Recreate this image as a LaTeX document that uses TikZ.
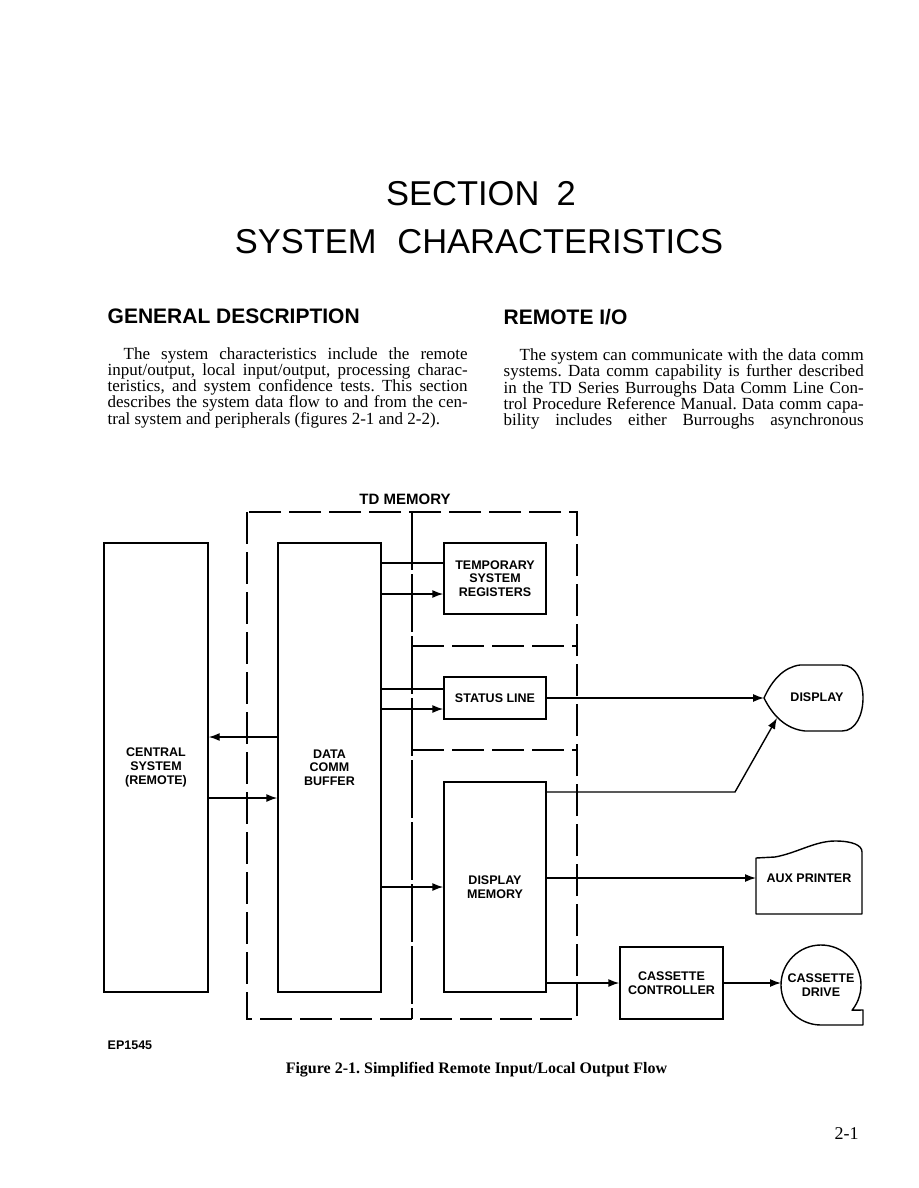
\documentclass[tikz,border=0pt]{standalone}
\usepackage{fontspec}
\setmainfont{Liberation Serif}
\setsansfont{Liberation Sans}
\usetikzlibrary{arrows.meta,calc,positioning}
\frenchspacing
\newcommand\lblfont{\sffamily\bfseries\fontsize{12.5}{13.6}\selectfont}
\newcommand\jline[2]{\makebox[#1pt][s]{#2}}
\tikzset{
  blk/.style={draw,inner sep=0pt,align=center,font=\lblfont},
  lbl/.style={inner sep=0pt,align=center,font=\lblfont},
  shp/.style={line join=round},
  tdbox/.style={line width=1.2pt,dash pattern=on 32pt off 8pt},
  tdsplit/.style={line width=1.2pt,dash pattern=on 58pt off 4pt},
  body/.style={anchor=base west,inner sep=0pt,font=\fontsize{17}{16.3}\selectfont},
  head/.style={anchor=base west,inner sep=0pt,font=\sffamily\bfseries\fontsize{21}{24}\selectfont},
  title/.style={inner sep=0pt,font=\sffamily\fontsize{34.5}{40}\selectfont}
}
\begin{document}
\begin{tikzpicture}[x=1pt,y=-1pt,line width=1.4pt,>={Latex[length=11pt,width=8pt]}]
  \useasboundingbox (0,0) rectangle (918,1188);

  % page heading
  \node[title,anchor=base] (sec) at (481,205) {SECTION\hspace{0.5em}2};
  \node[title,anchor=base] (sys) at (479,253) {SYSTEM\hspace{0.6em}CHARACTERISTICS};

  \node[head] (hgen) at (107,323) {GENERAL DESCRIPTION};
  \node[head] (hrem) at (503,324) {REMOTE I/O};

  % left column
  \node[body] (l1) at (123,359)   {\jline{344}{The system characteristics include the remote}};
  \node[body] (l2) at (107,375.3) {\jline{360}{input/output, local input/output, processing charac-}};
  \node[body] (l3) at (107,391.6) {\jline{360}{teristics, and system confidence tests. This section}};
  \node[body] (l4) at (107,407.9) {\jline{360}{describes the system data flow to and from the cen-}};
  \node[body] (l5) at (107,424.2) {tral system and peripherals (figures 2-1 and 2-2).};

  % right column
  \node[body] (r1) at (519,360.5) {\jline{344}{The system can communicate with the data comm}};
  \node[body] (r2) at (503,376.8) {\jline{360}{systems. Data comm capability is further described}};
  \node[body] (r3) at (503,393.1) {\jline{360}{in the TD Series Burroughs Data Comm Line Con-}};
  \node[body] (r4) at (503,409.4) {\jline{360}{trol Procedure Reference Manual. Data comm capa-}};
  \node[body] (r5) at (503,425.7) {\jline{360}{bility includes either Burroughs asynchronous}};

  % TD memory outline
  \node[font=\sffamily\bfseries\fontsize{15}{18}\selectfont,inner sep=0pt] (tdmem) at (405,499) {TD MEMORY};
  \draw[tdbox] (247,512) rectangle (577,1019);
  \draw[tdsplit] (412,512) -- (412,1019);
  \draw[tdbox] (412,646) -- (577,646);
  \draw[tdbox] (412,750) -- (577,750);

  % blocks
  \node[blk,minimum width=104,minimum height=449] (central) at (156,767.5) {CENTRAL\\SYSTEM\\(REMOTE)};
  \node[blk,minimum width=103,minimum height=449] (buf) at (329.5,767.5) {DATA\\COMM\\BUFFER};
  \node[blk,minimum width=102,minimum height=71] (tsr) at (495,578.5) {TEMPORARY\\SYSTEM\\REGISTERS};
  \node[blk,minimum width=102,minimum height=42] (status) at (495,698) {STATUS LINE};
  \node[blk,minimum width=102,minimum height=210] (dmem) at (495,887) {DISPLAY\\MEMORY};
  \node[blk,minimum width=103,minimum height=72] (cctl) at (671.5,983) {CASSETTE\\CONTROLLER};

  % display
  \coordinate (dispL) at (764,698);
  \coordinate (dispLL) at (777,718);
  \draw[shp] (dispL) .. controls (772,680) and (784,667) .. (800,665) -- (842,665)
    .. controls (870,665) and (870,731) .. (842,731) -- (805,731)
    .. controls (786,729) and (773,716) .. (dispL) -- cycle;
  \node[lbl] (disp) at (817,697) {DISPLAY};

  % aux printer
  \coordinate (auxL) at (756,878);
  \draw[shp] (auxL) -- (756,858) -- (775,857) .. controls (797,853) and (815,841) .. (835,841)
    .. controls (852,841) and (862,845) .. (862,852) -- (862,914) -- (756,914) -- cycle;
  \node[lbl] (aux) at (809,878) {AUX PRINTER};

  % cassette drive
  \node[lbl,circle,outer sep=0pt,minimum size=80] (cdrive) at (821,985) {CASSETTE\\DRIVE};
  \draw[shp] (cdrive.-39) arc[start angle=-39,end angle=270,radius=40pt]
    -- ++(42,0) -- ++(0,-15) -- cycle;

  % buffer <-> central system
  \draw[->] ([yshift=30.5pt]buf.west) -- ([yshift=30.5pt]buf.west -| central.east);
  \draw[->] ([yshift=-30.5pt]central.east) -- ([yshift=-30.5pt]central.east -| buf.west);

  % buffer -> memory blocks
  \draw ([yshift=15.5pt]tsr.west -| buf.east) -- ([yshift=15.5pt]tsr.west);
  \draw[->] ([yshift=-15.5pt]tsr.west -| buf.east) -- ([yshift=-15.5pt]tsr.west);
  \draw ([yshift=9pt]status.west -| buf.east) -- ([yshift=9pt]status.west);
  \draw[->] ([yshift=-11pt]status.west -| buf.east) -- ([yshift=-11pt]status.west);
  \draw[->] (buf.east |- dmem.west) -- (dmem.west);

  % outputs
  \coordinate (kink) at (735,792);
  \draw[->] (status.east) -- (dispL);
  \draw[->] (dmem.east |- kink) -- (kink) -- (dispLL);
  \draw[->] (dmem.east |- auxL) -- (auxL);
  \draw[->] (dmem.east |- cctl.west) -- (cctl.west);
  \draw[->] (cctl.east) -- (cctl.east -| cdrive.west);

  % figure id and caption
  \node[anchor=base west,inner sep=0pt,font=\sffamily\bfseries\fontsize{12.5}{14}\selectfont] (ep) at (107,1049) {EP1545};
  \node[anchor=base,inner sep=0pt,font=\bfseries\fontsize{16}{18}\selectfont] (cap) at (476.5,1073) {Figure 2-1. Simplified Remote Input/Local Output Flow};
  \node[anchor=base west,inner sep=0pt,font=\fontsize{18}{20}\selectfont] (pg) at (834,1139) {2-1};
\end{tikzpicture}
\end{document}
